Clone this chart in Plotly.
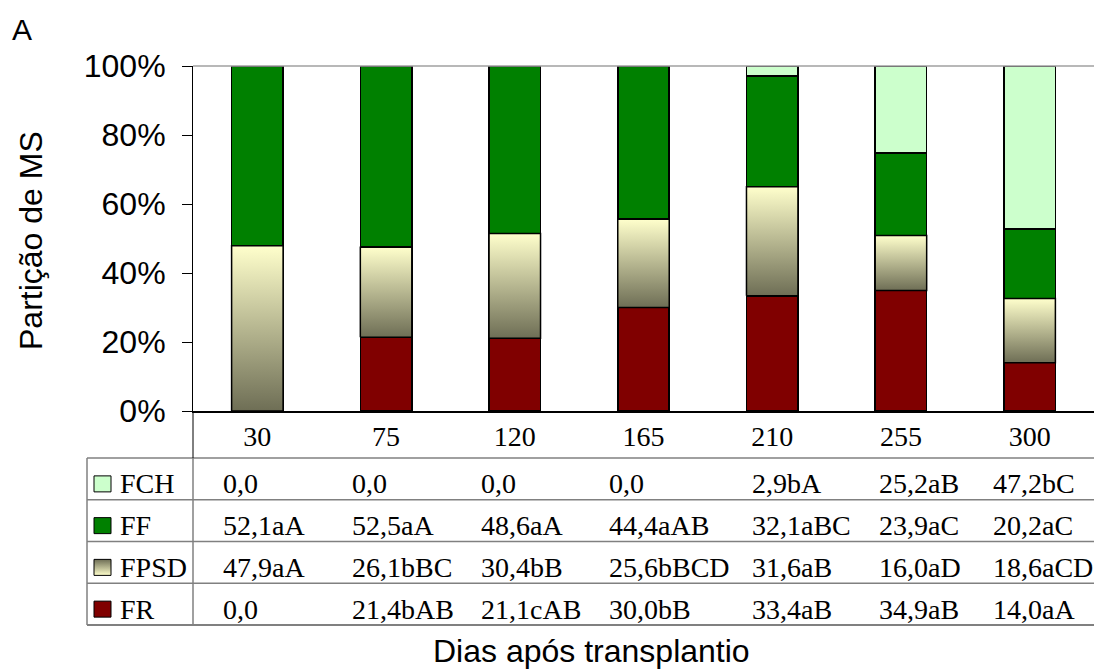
import numpy as np
import plotly.graph_objects as go

# Days after transplanting
days = ["30", "75", "120", "165", "210", "255", "300"]

# Dry-matter partition (%) per plant fraction
fr = [0.0, 21.4, 21.1, 30.0, 33.4, 34.9, 14.0]
fpsd = [47.9, 26.1, 30.4, 25.6, 31.6, 16.0, 18.6]
ff = [52.1, 52.5, 48.6, 44.4, 32.1, 23.9, 20.2]
fch = [0.0, 0.0, 0.0, 0.0, 2.9, 25.2, 47.2]

# Mean-comparison letters printed after each value
fr_letters = ["", "bAB", "cAB", "bB", "aB", "aB", "aA"]
fpsd_letters = ["aA", "bBC", "bB", "bBCD", "aB", "aD", "aCD"]
ff_letters = ["aA", "aA", "aA", "aAB", "aBC", "aC", "aC"]
fch_letters = ["", "", "", "", "bA", "aB", "bC"]

series_names = ["FCH", "FF", "FPSD", "FR"]
y_ticks = [0, 20, 40, 60, 80, 100]

# ---------------------------------------------------------------- styles
W, H = 1094, 671
SANS = "Liberation Sans, Arial, sans-serif"
SERIF = "Liberation Serif, Times New Roman, serif"
C_FR = "#800000"
C_FF = "#008000"
C_FCH = "#CCFFCC"
FPSD_LIGHT = "#FFFFCC"
FPSD_DARK = "#6E6E55"
GRAD = [[0, FPSD_DARK], [1, FPSD_LIGHT]]
BAR_W = 0.4

PLOT_L, PLOT_T, PLOT_B = 193, 66, 411
TABLE_L, TABLE_T, ROW_H = 87, 458, 41.75
CELL_NUDGE = [0, 0, 0, 0, 14, 12, -3]   # px tweak of each table column's text
TABLE_FONT = 28

raw = np.array([fr, fpsd, ff, fch], dtype=float)
pct = raw / raw.sum(axis=0) * 100.0
x = np.arange(len(days))

fig = go.Figure()

bar_style = dict(width=BAR_W, marker_line_color="black", marker_line_width=1.5,
                 hoverinfo="skip", showlegend=False)
fig.add_trace(go.Bar(x=x, y=pct[0], marker_color=C_FR, **bar_style))
fig.add_trace(go.Bar(x=x, y=pct[1], marker_color="#BBBB93", **bar_style))
fig.add_trace(go.Bar(x=x, y=pct[2], marker_color=C_FF, **bar_style))
fig.add_trace(go.Bar(x=x, y=pct[3], marker_color=C_FCH, **bar_style))

# gradient-filled FPSD segments on top of their stacked bars
base = pct[0]
top = pct[0] + pct[1]
for i in range(len(days)):
    if pct[1][i] <= 0:
        continue
    x0, x1 = x[i] - BAR_W / 2, x[i] + BAR_W / 2
    fig.add_trace(go.Scatter(
        x=[x0, x1, x1, x0, x0], y=[base[i], base[i], top[i], top[i], base[i]],
        mode="lines", fill="toself",
        fillgradient=dict(type="vertical", colorscale=GRAD),
        line=dict(color="black", width=1.5),
        hoverinfo="skip", showlegend=False))

# ---------------------------------------------------------------- table
shapes = []
annotations = []
line_gray = "#808080"
n_rows = len(series_names)
rows_y = [TABLE_T + k * ROW_H for k in range(n_rows + 1)]
for k, yy in enumerate(rows_y):
    shapes.append(dict(type="line", xref="x2", yref="y2", x0=TABLE_L, x1=W,
                       y0=yy, y1=yy,
                       line=dict(color=line_gray, width=2 if k == n_rows else 1.5)))
for xx in (TABLE_L, PLOT_L):
    shapes.append(dict(type="line", xref="x2", yref="y2", x0=xx, x1=xx,
                       y0=TABLE_T, y1=rows_y[-1], line=dict(color=line_gray, width=1.5)))
# y axis carried down through the category-label row
shapes.append(dict(type="line", xref="x2", yref="y2", x0=PLOT_L, x1=PLOT_L,
                   y0=PLOT_B, y1=TABLE_T, line=dict(color="black", width=1)))
# top frame line of the plot area
shapes.append(dict(type="line", xref="x2", yref="y2", x0=PLOT_L, x1=W,
                   y0=PLOT_T, y1=PLOT_T, line=dict(color="#A0A0A0", width=1.5)))


def fmt(v, letters):
    return f"{v:.1f}".replace(".", ",") + letters


table_vals = {"FCH": (fch, fch_letters), "FF": (ff, ff_letters),
              "FPSD": (fpsd, fpsd_letters), "FR": (fr, fr_letters)}
key_colors = {"FCH": C_FCH, "FF": C_FF, "FR": C_FR}

for k, name in enumerate(series_names):
    yc = rows_y[k] + ROW_H / 2 + 5
    # legend key
    kx0, kx1 = 94, 111
    if name == "FPSD":
        fig.add_trace(go.Scatter(
            x=[kx0, kx1, kx1, kx0, kx0], y=[yc + 8, yc + 8, yc - 8, yc - 8, yc + 8],
            mode="lines", fill="toself",
            fillgradient=dict(type="vertical", colorscale=[[0, FPSD_LIGHT], [1, FPSD_DARK]]),
            line=dict(color="black", width=1), xaxis="x2", yaxis="y2",
            hoverinfo="skip", showlegend=False))
    else:
        shapes.append(dict(type="rect", xref="x2", yref="y2", x0=kx0, x1=kx1,
                           y0=yc - 8, y1=yc + 8, fillcolor=key_colors[name],
                           line=dict(color="black", width=1)))
    annotations.append(dict(xref="x2", yref="y2", x=118, y=yc, text=name,
                            showarrow=False, xanchor="left", yanchor="middle",
                            font=dict(family=SERIF, size=TABLE_FONT, color="black")))
    vals, letters = table_vals[name]
    for i in range(len(days)):
        annotations.append(dict(xref="x", yref="y2", x=x[i] - 0.28, y=yc,
                                xshift=CELL_NUDGE[i],
                                text=fmt(vals[i], letters[i]), showarrow=False,
                                xanchor="left", yanchor="middle",
                                font=dict(family=SERIF, size=TABLE_FONT, color="black")))

# titles and panel letter
annotations.append(dict(xref="x2", yref="y2", x=31, y=241, text="Partição de MS",
                        textangle=-90, showarrow=False, xanchor="center", yanchor="middle",
                        font=dict(family=SANS, size=32, color="black")))
annotations.append(dict(xref="x2", yref="y2", x=591, y=651, text="Dias após transplantio",
                        showarrow=False, xanchor="center", yanchor="middle",
                        font=dict(family=SANS, size=32, color="black")))
annotations.append(dict(xref="x2", yref="y2", x=22, y=29, text="A",
                        showarrow=False, xanchor="center", yanchor="middle",
                        font=dict(family=SANS, size=30, color="black")))

# invisible anchor trace so the pixel-space overlay axes exist
fig.add_trace(go.Scatter(x=[0], y=[0], mode="markers", marker=dict(opacity=0),
                         xaxis="x2", yaxis="y2", hoverinfo="skip", showlegend=False))

fig.update_layout(
    width=W, height=H, autosize=False,
    margin=dict(l=0, r=0, t=0, b=0, pad=0, autoexpand=False),
    paper_bgcolor="white", plot_bgcolor="rgba(0,0,0,0)",
    barmode="stack", showlegend=False,
    xaxis=dict(domain=[PLOT_L / W, 1.0], range=[-0.5, len(days) - 0.5],
               tickvals=list(x), ticktext=days, ticks="", showgrid=False,
               zeroline=False, showline=True, linecolor="black", linewidth=1.5,
               tickfont=dict(family=SERIF, size=28, color="black"),
               anchor="y", fixedrange=True, automargin=False),
    yaxis=dict(domain=[(H - PLOT_B) / H, (H - PLOT_T) / H], range=[0, 100],
               tickvals=y_ticks, ticktext=[f"{v}%" for v in y_ticks],
               ticks="outside", ticklen=10, tickwidth=1, tickcolor="black",
               ticklabelstandoff=10,
               showline=True, linecolor="black", linewidth=1,
               showgrid=False, zeroline=False,
               tickfont=dict(family=SANS, size=32, color="black"),
               anchor="x", fixedrange=True, automargin=False),
    xaxis2=dict(domain=[0, 1], range=[0, W], visible=False, anchor="y2",
                fixedrange=True, automargin=False),
    yaxis2=dict(domain=[0, 1], range=[H, 0], visible=False, anchor="x2",
                fixedrange=True, automargin=False),
    shapes=shapes, annotations=annotations,
)

fig.write_html("out.html")
